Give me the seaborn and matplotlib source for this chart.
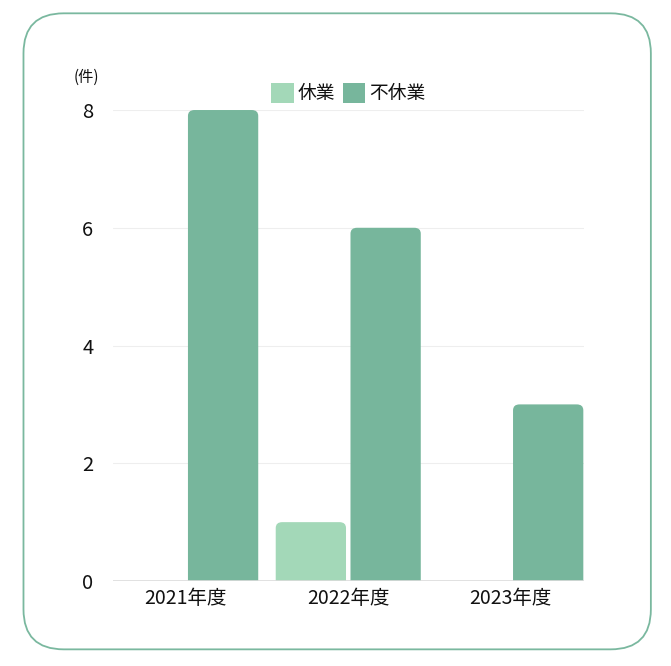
import matplotlib
matplotlib.use("Agg")
import matplotlib.pyplot as plt
import seaborn as sns
import pandas as pd
from matplotlib.patches import FancyBboxPatch, Patch

years = ["2021年度", "2022年度", "2023年度"]
kyugyo = [0, 1, 0]       # 休業
fukyugyo = [8, 6, 3]     # 不休業
series = ["休業", "不休業"]
colors = ["#a3d8b8", "#77b69c"]

df = pd.DataFrame({
    "year": years * 2,
    "count": kyugyo + fukyugyo,
    "type": [series[0]] * len(years) + [series[1]] * len(years),
})

sns.set_theme(style="white")
plt.rcParams["font.family"] = ["Noto Sans CJK JP", "DejaVu Sans"]

fig = plt.figure(figsize=(6.71, 6.66), dpi=100)

# rounded outer frame
frame = FancyBboxPatch((0.035, 0.025), 0.935, 0.955,
                       boxstyle="round,pad=0,rounding_size=0.06",
                       transform=fig.transFigure, fill=False,
                       edgecolor="#7ab89f", linewidth=1.3)
fig.patches.append(frame)

ax = fig.add_axes([0.168, 0.1276, 0.702, 0.7072])
sns.barplot(data=df, x="year", y="count", hue="type", palette=colors,
            width=0.92, gap=0.06, ax=ax, legend=False, saturation=1)

# swap plain bars for ones with slightly rounded tops
for p in list(ax.patches):
    x, w, h = p.get_x(), p.get_width(), p.get_height()
    if h <= 0:
        p.remove()
        continue
    fc = p.get_facecolor()
    p.remove()
    ax.add_patch(FancyBboxPatch((x, -0.3), w, h + 0.3,
                                boxstyle="round,pad=0,rounding_size=0.04",
                                mutation_aspect=2.5, facecolor=fc,
                                edgecolor="none", zorder=2))

ax.set_ylim(0, 8)
ax.set_xlim(-0.449, 2.449)
ax.set_yticks([0, 2, 4, 6, 8])
ax.yaxis.grid(True, color="#eeeeee", linewidth=0.8, zorder=0)
ax.set_axisbelow(True)
ax.axhline(0, color="#dcdcdc", linewidth=1.2, zorder=3)
for s in ax.spines.values():
    s.set_visible(False)
ax.set_xlabel("")
ax.set_ylabel("")
ax.tick_params(axis="y", labelsize=14.5, length=0, pad=14, colors="#111111")
ax.tick_params(axis="x", labelsize=14, length=0, pad=5, colors="#111111")

handles = [Patch(facecolor=c, edgecolor="none") for c in colors]
fig.legend(handles, series, loc="center", bbox_to_anchor=(0.519, 0.859),
           ncol=2, frameon=False, fontsize=13.5, handlelength=1.2,
           handleheight=1.2, handletextpad=0.2, columnspacing=0.4,
           labelcolor="#111111")

fig.text(0.128, 0.884, "(件)", fontsize=11, ha="center", va="center",
         color="#111111")

fig.savefig("out.png", dpi=100)
